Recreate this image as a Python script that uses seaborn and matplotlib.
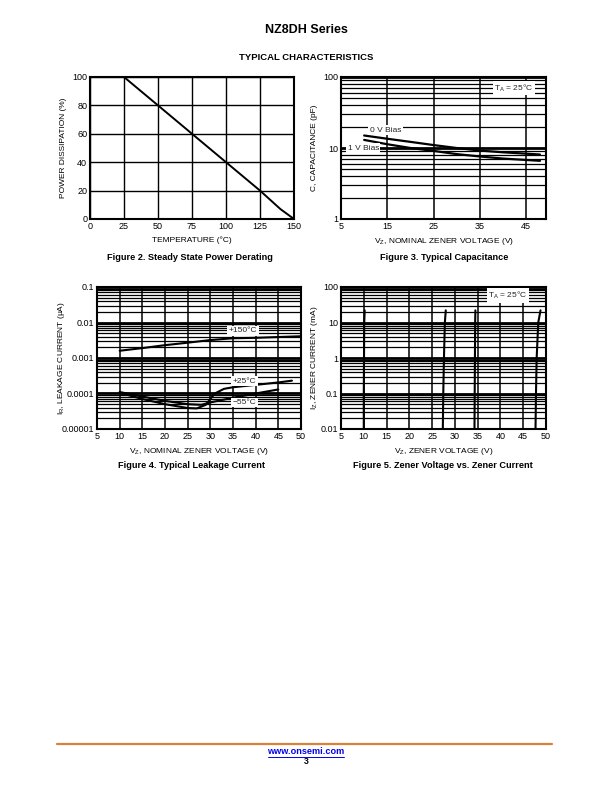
import numpy as np
import pandas as pd
import seaborn as sns
import matplotlib
matplotlib.use("Agg")
import matplotlib.pyplot as plt
from matplotlib.ticker import LogLocator, NullFormatter, FixedLocator, FixedFormatter

# Figure 2 - power derating
temp_c = [0, 25, 50, 75, 100, 125, 140, 150]
power_pct = [100, 100, 80, 60, 40, 20, 7, 0]

# Figure 3 - capacitance
cap_vz = [10, 15, 20, 25, 30, 35, 40, 48]
cap_0v = [15, 13.5, 12.2, 11, 10, 9.2, 8.7, 8.1]
cap_1v = [13, 11.3, 10, 9.1, 8.2, 7.6, 7.1, 6.6]

# Figure 4 - leakage current
leak150_vz = [10, 15, 20, 25, 30, 35, 40, 45, 50]
leak150 = [0.0016, 0.0019, 0.0023, 0.0027, 0.0032, 0.0036, 0.0037, 0.0039, 0.0041]
leak25_vz = [10, 15, 20, 25, 27, 29, 30, 31, 33, 35, 40, 45, 48]
leak25 = [1.05e-4, 7e-5, 5e-5, 3.9e-5, 3.8e-5, 4.8e-5, 7e-5, 1.0e-4, 1.35e-4, 1.5e-4, 1.75e-4, 2.05e-4, 2.3e-4]
leakm55_vz = [10, 15, 20, 25, 28, 30, 35, 40, 45]
leakm55 = [1.1e-4, 8.2e-5, 6.2e-5, 5.0e-5, 4.8e-5, 5.6e-5, 7.6e-5, 1.0e-4, 1.3e-4]

# Figure 5 - zener current
iz_ma = [0.01, 0.1, 1, 10, 22]
vz_10 = [10.0, 10.0, 10.05, 10.1, 10.2]
vz_27 = [27.35, 27.45, 27.6, 27.8, 28.0]
vz_34 = [34.3, 34.35, 34.4, 34.45, 34.5]
vz_48 = [47.7, 47.8, 47.95, 48.3, 48.8]

sns.set_theme(style="white")
plt.rcParams['font.family'] = ['Liberation Sans', 'DejaVu Sans']
plt.rcParams['mathtext.fontset'] = 'custom'
plt.rcParams['mathtext.rm'] = 'Liberation Sans'
plt.rcParams['axes.edgecolor'] = 'black'

W, H = 612, 792
fig = plt.figure(figsize=(6.12, 7.92), dpi=100)


def box(l, r, t, b):
    return [l / W, 1 - b / H, (r - l) / W, (b - t) / H]


def style(ax):
    for s in ax.spines.values():
        s.set_linewidth(1.5)
        s.set_color('black')
    ax.tick_params(length=0, pad=2, labelsize=6.5, colors='black')
    ax.set_axisbelow(True)


def log_grid(ax):
    ax.yaxis.set_minor_locator(LogLocator(base=10, subs=range(2, 10)))
    ax.yaxis.set_minor_formatter(NullFormatter())
    ax.grid(which='major', axis='y', color='black', lw=2)
    ax.grid(which='minor', axis='y', color='black', lw=0.9)
    ax.grid(which='major', axis='x', color='black', lw=1.1)


def labels(ax, xl, yl, xpos, ypos):
    ax.set_xlabel(xl, fontsize=6, color='black')
    ax.set_ylabel(yl, fontsize=6, color='black')
    ax.xaxis.set_label_coords(0.5, xpos)
    ax.yaxis.set_label_coords(ypos, 0.5)
    ax.xaxis.label.set_va('center')
    ax.yaxis.label.set_va('center')


wbox = dict(facecolor='white', edgecolor='none', pad=1)

# ---- Figure 2
ax1 = fig.add_axes(box(90, 294, 77, 219))
sns.lineplot(x=temp_c, y=power_pct, color='black', lw=1.4, ax=ax1, estimator=None, sort=False)
ax1.set_xlim(0, 150)
ax1.set_ylim(0, 100)
ax1.set_xticks([0, 25, 50, 75, 100, 125, 150])
ax1.set_yticks([0, 20, 40, 60, 80, 100])
ax1.grid(color='black', lw=1)
style(ax1)
labels(ax1, 'TEMPERATURE (°C)', 'POWER DISSIPATION (%)', -0.148, -0.132)

# ---- Figure 3
ax2 = fig.add_axes(box(341, 546, 77, 219))
sns.lineplot(x=cap_vz, y=cap_0v, color='black', lw=1.6, ax=ax2, estimator=None)
sns.lineplot(x=cap_vz, y=cap_1v, color='black', lw=1.6, ax=ax2, estimator=None)
ax2.set_yscale('log')
ax2.set_xlim(5, 49.3)
ax2.set_ylim(1, 100)
ax2.set_xticks([5, 15, 25, 35, 45])
ax2.yaxis.set_major_locator(FixedLocator([1, 10, 100]))
ax2.yaxis.set_major_formatter(FixedFormatter(['1', '10', '100']))
log_grid(ax2)
style(ax2)
ax2.text(14.6, 17.9, '0 V Bias', fontsize=6, ha='center', va='center', bbox=wbox)
ax2.text(9.8, 10, '1 V Bias', fontsize=6, ha='center', va='center', bbox=wbox)
ax2.text(42.3, 70, r'T$_\mathregular{A}$ = 25°C', fontsize=6, ha='center', va='center', bbox=wbox)
labels(ax2, r'V$_\mathregular{Z}$, NOMINAL ZENER VOLTAGE (V)', 'C, CAPACITANCE (pF)', -0.155, -0.127)

# ---- Figure 4
ax3 = fig.add_axes(box(97, 301, 287, 429))
sns.lineplot(x=leak150_vz, y=leak150, color='black', lw=1.5, ax=ax3, estimator=None)
sns.lineplot(x=leak25_vz, y=leak25, color='black', lw=1.5, ax=ax3, estimator=None)
sns.lineplot(x=leakm55_vz, y=leakm55, color='black', lw=1.5, ax=ax3, estimator=None)
ax3.set_yscale('log')
ax3.set_xlim(5, 50)
ax3.set_ylim(1e-5, 0.1)
ax3.set_xticks(range(5, 51, 5))
ax3.yaxis.set_major_locator(FixedLocator([1e-5, 1e-4, 1e-3, 1e-2, 1e-1]))
ax3.yaxis.set_major_formatter(FixedFormatter(['0.00001', '0.0001', '0.001', '0.01', '0.1']))
log_grid(ax3)
style(ax3)
ax3.text(37.2, 0.0059, '+150°C', fontsize=6, ha='center', va='center', bbox=wbox)
ax3.text(37.5, 0.00022, '+25°C', fontsize=6, ha='center', va='center', bbox=wbox)
ax3.text(37.5, 0.000056, '\u221255°C', fontsize=6, ha='center', va='center', bbox=wbox)
labels(ax3, r'V$_\mathregular{Z}$, NOMINAL ZENER VOLTAGE (V)', r'I$_\mathregular{R}$, LEAKAGE CURRENT (μA)',
       -0.155, -0.172)

# ---- Figure 5
ax4 = fig.add_axes(box(341, 546, 287, 429))
for vz in (vz_10, vz_27, vz_34, vz_48):
    sns.lineplot(x=vz, y=iz_ma, color='black', lw=1.5, ax=ax4, estimator=None, sort=False)
ax4.set_yscale('log')
ax4.set_xlim(5, 50)
ax4.set_ylim(0.01, 100)
ax4.set_xticks(range(5, 51, 5))
ax4.yaxis.set_major_locator(FixedLocator([0.01, 0.1, 1, 10, 100]))
ax4.yaxis.set_major_formatter(FixedFormatter(['0.01', '0.1', '1', '10', '100']))
log_grid(ax4)
style(ax4)
ax4.text(41.6, 57, r'T$_\mathregular{A}$ = 25°C', fontsize=6, ha='center', va='center', bbox=wbox)
labels(ax4, r'V$_\mathregular{Z}$, ZENER VOLTAGE (V)', r'I$_\mathregular{Z}$, ZENER CURRENT (mA)', -0.155, -0.127)


# page text
def ftext(x, y, s, **kw):
    fig.text(x / W, 1 - y / H, s, ha='center', va='center', color='black', **kw)


ftext(306, 30, 'NZ8DH Series', fontsize=9, fontweight='bold')
ftext(306, 57, 'TYPICAL CHARACTERISTICS', fontsize=6.8, fontweight='bold')
ftext(190, 257, 'Figure 2. Steady State Power Derating', fontsize=6.6, fontweight='bold')
ftext(444, 257, 'Figure 3. Typical Capacitance', fontsize=6.6, fontweight='bold')
ftext(192, 466, 'Figure 4. Typical Leakage Current', fontsize=6.6, fontweight='bold')
ftext(443, 466, 'Figure 5. Zener Voltage vs. Zener Current', fontsize=6.6, fontweight='bold')

fig.add_artist(plt.Line2D([57 / W, 552 / W], [1 - 744 / H, 1 - 744 / H], color='#d9823b', lw=1.6))
fig.text(306 / W, 1 - 752 / H, 'www.onsemi.com', ha='center', va='center', fontsize=6.6,
         fontweight='bold', color='#0000ee')
fig.add_artist(plt.Line2D([268 / W, 344 / W], [1 - 756.5 / H, 1 - 756.5 / H], color='#0000ee', lw=0.7))
ftext(306, 762, '3', fontsize=6.3, fontweight='bold')

fig.savefig('out.png', dpi=100)
